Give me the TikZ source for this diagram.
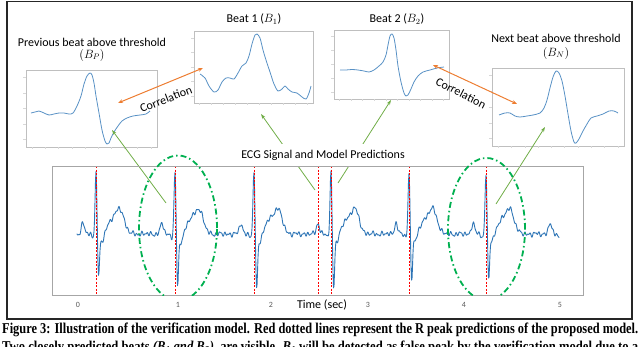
\documentclass[tikz,border=0pt]{standalone}
\usepackage{fontspec}
\setmainfont{Carlito}
\newfontfamily\capfont{Liberation Serif}
\usetikzlibrary{arrows.meta,calc}
\definecolor{ecgblue}{RGB}{46,117,182}
\definecolor{arrgreen}{RGB}{112,173,71}
\definecolor{ellgreen}{RGB}{0,176,80}
\definecolor{corrorange}{RGB}{237,125,49}
\definecolor{boxgray}{RGB}{191,191,191}
\definecolor{axgray}{RGB}{166,166,166}
\definecolor{ticktext}{RGB}{89,89,89}
\tikzset{
  lbl/.style={font=\fontsize{12}{14}\selectfont, inner sep=1pt},
  ticklbl/.style={font=\fontsize{8}{9}\selectfont, text=ticktext, inner sep=0pt},
  insetbox/.style={draw=boxgray, line width=0.7pt},
  beatcurve/.style={draw=ecgblue!80, line width=0.8pt, line join=round},
  ecgline/.style={draw=ecgblue, line width=0.9pt, line join=round, line cap=round},
  rpeak/.style={draw=red, line width=0.8pt, dash pattern=on 2pt off 1.5pt},
  pointer/.style={draw=arrgreen, line width=0.8pt, -{Stealth[length=5pt,width=3.5pt]}},
  corr/.style={draw=corrorange, line width=1pt, {Stealth[length=5pt,width=4pt]}-{Stealth[length=5pt,width=4pt]}},
  circled/.style={draw=ellgreen, line width=1.8pt, dash pattern=on 6pt off 3pt on 1.5pt off 3pt},
  declare function={
    gg(\dq,\wq)=exp(-min((\dq/\wq)*(\dq/\wq),20));
    bt(\tq,\sq)= -62*gg(\tq,1.3) + \sq*gg(\tq-2.6,1.3) + 3*gg(\tq+3.5,1.5) - 11*gg(\tq+13,2.2) + 9*gg(\tq-6,3) - 12*gg(\tq-15,6) - 24*gg(\tq-24,6);
    nz(\xq)= 1.4*sin(mod(\xq,60)*78)+1.0*sin(mod(\xq,60)*126+30)+0.7*sin(mod(\xq,60)*42+70)+0.6*sin(mod(\xq,60)*24);
  }
}
\begin{document}
\begin{tikzpicture}[x=1pt,y=-1pt]
\useasboundingbox (0,0) rectangle (640,346);
\clip (0,0) rectangle (640,346);
% outer frame
\draw[line width=1.4pt, black!85] (7,1.5) rectangle (632,319);

% inset boxes
\node[insetbox, minimum width=131pt, minimum height=77pt, inner sep=0pt] (bp) at (91.5,108.5) {};
\node[insetbox, minimum width=119pt, minimum height=72pt, inner sep=0pt] (b1) at (253.5,67) {};
\node[insetbox, minimum width=115pt, minimum height=69pt, inner sep=0pt] (b2) at (391.5,64.5) {};
\node[insetbox, minimum width=132pt, minimum height=78pt, inner sep=0pt] (bn) at (558,107) {};
% faint ticks
\foreach \b in {bp,b1,b2,bn}{
  \foreach \f in {0.1,0.3,0.5,0.7,0.9}{
    \draw[boxgray!60, line width=0.4pt] ($(\b.south west)!\f!(\b.north west)$) -- ++(-2.5,0);
  }
  \foreach \f in {0.05,0.15,...,0.96}{
    \draw[boxgray!60, line width=0.4pt] ($(\b.south west)!\f!(\b.south east)$) -- ++(0,2);
  }
}
% inset curves
\draw[beatcurve] plot[smooth, tension=0.5] coordinates {(31,113) (35,112) (39,111) (44,113) (49,115) (54,114) (59,113) (64,113) (69,114) (73,113) (77,106) (81,96) (84,84) (87,76) (90,73) (92,75) (94,83) (96,96) (99,113) (102,130) (105,141) (107,144) (109,143) (111,138) (114,132) (118,126) (122,121) (127,118) (133,116) (140,115) (146,114) (150,111)};
\draw[beatcurve] plot[smooth, tension=0.5] coordinates {(200,74) (205,78) (209,86) (214,92) (218,90) (222,82) (226,78) (230,78) (234,79) (238,73) (242,66) (246,63) (249,56) (252,44) (255,35) (257,34) (260,38) (263,50) (266,60) (270,72) (274,84) (278,91) (282,89) (285,86) (288,89) (292,92) (297,93) (302,97) (306,99) (309,93) (311,86)};
\draw[beatcurve] plot[smooth, tension=0.5] coordinates {(340,70) (346,70) (352,69.5) (358,70) (364,71) (369,72) (374,70) (379,66) (383,62) (386,55) (388,45) (390,36) (392,34) (394,38) (396,50) (398,66) (401,82) (404,93) (406,96) (408,95) (411,89) (414,82) (418,76) (423,72) (430,70) (437,68) (444,67)};
\draw[beatcurve] plot[smooth, tension=0.5] coordinates {(499,115) (505,113) (510,113) (515,116) (520,117) (527,116) (533,115) (540,113) (544,108) (547,100) (550,88) (553,77) (556,71) (559,73) (562,81) (565,96) (568,114) (571,131) (574,142) (576,143) (579,139) (583,131) (587,124) (591,118) (597,116) (603,114) (609,111) (614,111) (618,113)};

% titles
\node[lbl] (tbp) at (92,42) {Previous beat above threshold};
\node[lbl] (tbp2) at (92,55) {$(B_P)$};
\node[lbl] (tb1) at (254,19) {Beat 1 ($B_1$)};
\node[lbl] (tb2) at (397,19) {Beat 2 ($B_2$)};
\node[lbl] (tbn) at (556,38) {Next beat above threshold};
\node[lbl] (tbn2) at (556,53) {$(B_N)$};

% ECG signal
\foreach \r/\s/\a/\b in {96/41/77/136, 175/51/136/215, 254/54/215/294, 331/52/294/371, 409/43/371/448, 486/44/448/526, 563/0/526/559}{
  \pgfmathsetmacro\ns{int(2*(\b-\a)+1)}
  \draw[ecgline] plot[domain=\a:\b, samples=\ns] (\x, {234 + bt(\x-\r,\s) + nz(\x)});
}
% R peak predictions
\foreach \p in {96,175,254,318,331,409,486}{
  \draw[rpeak] (\p,166) -- (\p,295);
}

% pointer coordinates
\coordinate (sbp) at (166,203); \coordinate (ebp) at (112,130);
\coordinate (sb1) at (315,190); \coordinate (eb1) at (261,114);
\coordinate (sb2) at (338,183); \coordinate (eb2) at (391,100);
\coordinate (sbn) at (496,204); \coordinate (ebn) at (545,127);
\draw[pointer] (sbp) -- (ebp);
\draw[pointer] (sb1) -- (eb1);
\draw[pointer] (sb2) -- (eb2);
\draw[pointer] (sbn) -- (ebn);

% correlation arrows
\coordinate (ca) at (118,103); \coordinate (cb) at (203,68);
\coordinate (cc) at (433,65); \coordinate (cd) at (517,104);
\draw[corr] (ca) -- (cb);
\draw[corr] (cc) -- (cd);
\node[lbl, rotate=21] (corr1) at (166,99) {Correlation};
\node[lbl, rotate=-27] (corr2) at (461,93) {Correlation};

% ECG label with white backing
\node[lbl, fill=white, minimum height=22pt, inner xsep=3pt] (ecglbl) at (323,155) {ECG Signal and Model Predictions};

% main plot box
\draw[axgray, line width=0.9pt] (52,166) rectangle (583,295);
% ticks labels
\foreach \t/\xx in {0/78,1/178,2/271,3/368,4/464,5/560}{
  \node[ticklbl] (tick\t) at (\xx,305) {\t};
}
\node[lbl] (xlab) at (322,305) {Time (sec)};

% green ellipses
\begin{scope}
\clip (0,0) rectangle (640,295);
\draw[circled] (178,228) ellipse [x radius=39pt, y radius=72.5pt];
\draw[circled] (486.5,229) ellipse [x radius=38.5pt, y radius=71pt];
\end{scope}

% caption
\node[anchor=base west, inner sep=0pt] (cap1) at (2,333) {\resizebox{636pt}{\height}{\capfont\bfseries\fontsize{15}{18}\selectfont Figure 3: Illustration of the verification model. Red dotted lines represent the R peak predictions of the proposed model.}};
\node[anchor=base west, inner sep=0pt] (cap2) at (2,351) {\resizebox{636pt}{\height}{\capfont\bfseries\fontsize{15}{18}\selectfont Two closely predicted beats \textit{(B\textsubscript{1} and B\textsubscript{2})}, are visible. \textit{B\textsubscript{1}} will be detected as false peak by the verification model due to a}};
\end{tikzpicture}
\end{document}
